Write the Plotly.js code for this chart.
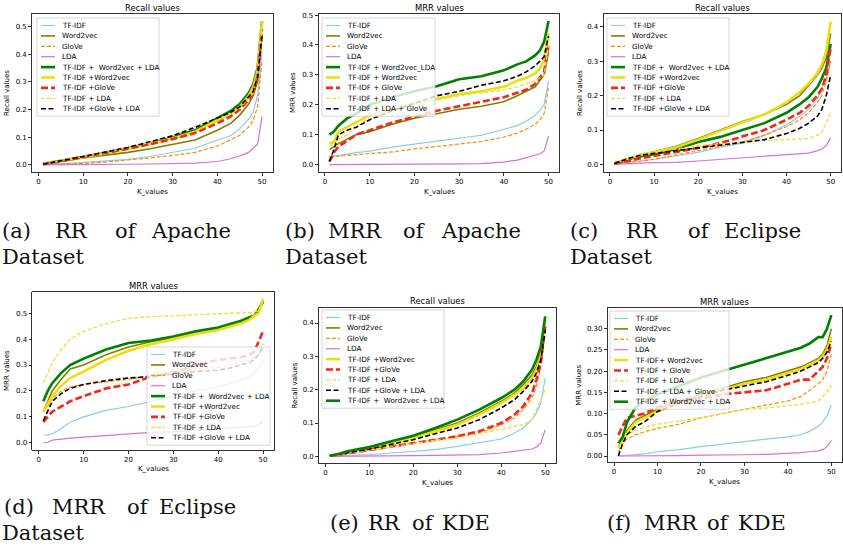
<!DOCTYPE html>
<html><head><meta charset="utf-8">
<script src="https://cdn.plot.ly/plotly-3.0.1.min.js"></script>
<style>html,body{margin:0;padding:0;background:#fff}#chart{width:843px;height:548px}</style>
</head><body><div id="chart"></div>
<script>
// ---------------- data ----------------
const K = [1,2,3,5,7,10,15,20,25,30,35,40,43,45,47,48,49,50];
const xTicks = [0,10,20,30,40,50];

// (a) Recall, Apache
const a_tfidf = [0.002,0.002,0.003,0.004,0.005,0.008,0.013,0.02,0.03,0.045,0.06,0.09,0.105,0.13,0.165,0.19,0.25,0.41];
const a_w2v   = [0.004,0.006,0.008,0.012,0.017,0.025,0.035,0.045,0.058,0.073,0.09,0.125,0.15,0.18,0.22,0.25,0.3,0.47];
const a_glove = [0.001,0.001,0.002,0.003,0.004,0.005,0.01,0.017,0.025,0.034,0.045,0.068,0.09,0.107,0.137,0.16,0.21,0.38];
const a_lda   = [0,0,0,0,0,0.001,0.002,0.002,0.003,0.004,0.006,0.012,0.022,0.032,0.045,0.06,0.075,0.175];
const a_twl   = [0.004,0.007,0.01,0.015,0.02,0.028,0.043,0.06,0.078,0.1,0.125,0.17,0.195,0.22,0.26,0.29,0.35,0.52];
const a_tw    = [0.004,0.007,0.01,0.015,0.02,0.027,0.042,0.058,0.076,0.095,0.12,0.16,0.185,0.21,0.25,0.28,0.34,0.52];
const a_tg    = [0.002,0.005,0.008,0.013,0.018,0.027,0.042,0.058,0.075,0.093,0.115,0.15,0.175,0.2,0.235,0.26,0.32,0.49];
const a_tl    = [0.003,0.006,0.009,0.014,0.02,0.029,0.045,0.062,0.082,0.105,0.14,0.165,0.185,0.205,0.24,0.26,0.33,0.5];
const a_tgl   = [0.002,0.005,0.009,0.014,0.02,0.03,0.046,0.063,0.083,0.105,0.135,0.17,0.19,0.21,0.245,0.265,0.32,0.47];

// (b) MRR, Apache
const b_tfidf = [0.025,0.027,0.029,0.035,0.04,0.045,0.058,0.067,0.078,0.088,0.098,0.118,0.13,0.145,0.165,0.18,0.2,0.28];
const b_w2v   = [0.05,0.06,0.07,0.085,0.1,0.11,0.135,0.155,0.17,0.185,0.195,0.21,0.23,0.245,0.26,0.28,0.3,0.375];
const b_glove = [0.025,0.026,0.027,0.03,0.033,0.037,0.042,0.052,0.06,0.068,0.077,0.092,0.105,0.118,0.135,0.148,0.17,0.26];
const b_lda   = [0,0,0,0,0,0,0,0.001,0.001,0.002,0.003,0.008,0.015,0.022,0.03,0.035,0.045,0.095];
const b_twl   = [0.1,0.11,0.13,0.155,0.17,0.2,0.225,0.245,0.262,0.285,0.295,0.315,0.335,0.345,0.365,0.38,0.41,0.48];
const b_tw    = [0.07,0.075,0.11,0.125,0.14,0.165,0.185,0.205,0.22,0.235,0.245,0.26,0.28,0.29,0.305,0.32,0.35,0.44];
const b_tg    = [0.01,0.04,0.06,0.08,0.1,0.115,0.14,0.16,0.18,0.195,0.21,0.225,0.24,0.25,0.27,0.29,0.31,0.4];
const b_tl    = [0.06,0.07,0.085,0.1,0.125,0.16,0.18,0.2,0.215,0.23,0.24,0.25,0.26,0.27,0.28,0.29,0.3,0.4];
const b_tgl   = [0.01,0.05,0.1,0.115,0.125,0.15,0.18,0.205,0.23,0.245,0.265,0.28,0.295,0.31,0.33,0.345,0.36,0.43];

// (c) Recall, Eclipse
const c_tfidf = [0.002,0.003,0.004,0.007,0.01,0.015,0.025,0.035,0.05,0.062,0.085,0.115,0.14,0.16,0.19,0.22,0.25,0.3];
const c_w2v   = [0.003,0.006,0.01,0.02,0.028,0.037,0.053,0.075,0.1,0.125,0.145,0.175,0.2,0.23,0.26,0.28,0.31,0.38];
const c_glove = [0.002,0.003,0.004,0.007,0.01,0.015,0.027,0.04,0.052,0.065,0.085,0.11,0.13,0.15,0.18,0.2,0.24,0.3];
const c_lda   = [0,0.001,0.002,0.003,0.004,0.005,0.006,0.01,0.015,0.02,0.023,0.028,0.031,0.033,0.04,0.045,0.055,0.077];
const c_twl   = [0.003,0.006,0.01,0.018,0.024,0.03,0.045,0.065,0.08,0.1,0.12,0.15,0.175,0.195,0.225,0.25,0.28,0.35];
const c_tw    = [0.003,0.008,0.012,0.02,0.028,0.035,0.05,0.072,0.098,0.122,0.145,0.18,0.21,0.235,0.265,0.29,0.33,0.415];
const c_tg    = [0.003,0.005,0.007,0.012,0.018,0.025,0.035,0.048,0.062,0.08,0.1,0.13,0.15,0.17,0.2,0.22,0.26,0.34];
const c_tl    = [0.003,0.008,0.012,0.02,0.027,0.035,0.045,0.055,0.06,0.065,0.07,0.072,0.074,0.076,0.085,0.095,0.12,0.15];
const c_tgl   = [0.003,0.008,0.012,0.02,0.027,0.032,0.04,0.05,0.057,0.064,0.072,0.09,0.105,0.12,0.14,0.16,0.2,0.26];

// (d) MRR, Eclipse
const d_tfidf = [0.03,0.03,0.035,0.055,0.08,0.1,0.125,0.14,0.16,0.18,0.2,0.215,0.23,0.24,0.255,0.27,0.29,0.32];
const d_w2v   = [0.12,0.16,0.2,0.245,0.285,0.3,0.34,0.37,0.39,0.405,0.425,0.44,0.455,0.465,0.48,0.49,0.52,0.55];
const d_glove = [0.12,0.14,0.17,0.2,0.215,0.225,0.235,0.245,0.26,0.275,0.285,0.29,0.3,0.31,0.32,0.33,0.345,0.38];
const d_lda   = [0,0.002,0.01,0.015,0.018,0.022,0.028,0.035,0.04,0.042,0.048,0.052,0.055,0.058,0.06,0.063,0.07,0.08];
const d_twl   = [0.16,0.2,0.23,0.27,0.3,0.325,0.36,0.385,0.395,0.41,0.43,0.445,0.46,0.47,0.485,0.49,0.51,0.545];
const d_tw    = [0.12,0.15,0.18,0.22,0.25,0.275,0.32,0.355,0.38,0.4,0.42,0.435,0.45,0.46,0.475,0.49,0.5,0.555];
const d_tg    = [0.08,0.1,0.12,0.14,0.16,0.18,0.21,0.225,0.255,0.27,0.3,0.32,0.325,0.33,0.34,0.35,0.39,0.43];
const d_tl    = [0.23,0.27,0.31,0.36,0.4,0.43,0.46,0.48,0.487,0.49,0.495,0.498,0.5,0.5,0.502,0.505,0.51,0.53];
const d_tgl   = [0.085,0.12,0.16,0.19,0.21,0.225,0.24,0.25,0.255,0.265,0.275,0.28,0.29,0.3,0.31,0.32,0.34,0.37];

// (e) Recall, KDE
const e_tfidf = [0.001,0.001,0.002,0.003,0.004,0.005,0.01,0.015,0.02,0.03,0.04,0.052,0.07,0.085,0.11,0.13,0.16,0.235];
const e_w2v   = [0.002,0.004,0.006,0.012,0.018,0.026,0.042,0.06,0.08,0.1,0.13,0.165,0.19,0.215,0.245,0.27,0.31,0.41];
const e_glove = [0.002,0.003,0.005,0.009,0.013,0.019,0.03,0.04,0.05,0.06,0.07,0.095,0.115,0.14,0.175,0.21,0.27,0.37];
const e_lda   = [0,0,0,0,0,0,0.001,0.002,0.003,0.004,0.005,0.01,0.015,0.018,0.022,0.028,0.04,0.08];
const e_tw    = [0.002,0.004,0.006,0.012,0.018,0.025,0.04,0.055,0.075,0.095,0.125,0.16,0.185,0.205,0.235,0.26,0.3,0.42];
const e_tg    = [0.002,0.003,0.005,0.009,0.013,0.02,0.03,0.04,0.05,0.06,0.075,0.1,0.125,0.15,0.19,0.23,0.28,0.39];
const e_tl    = [0.002,0.003,0.005,0.009,0.013,0.02,0.03,0.04,0.048,0.055,0.068,0.08,0.09,0.095,0.11,0.14,0.17,0.2];
const e_tgl   = [0.002,0.004,0.006,0.011,0.016,0.022,0.036,0.05,0.068,0.085,0.11,0.145,0.17,0.195,0.225,0.25,0.29,0.38];
const e_twl   = [0.002,0.004,0.007,0.015,0.02,0.028,0.045,0.062,0.085,0.11,0.14,0.175,0.2,0.225,0.26,0.29,0.33,0.42];

// (f) MRR, KDE
const f_tfidf = [0,0.001,0.002,0.004,0.005,0.01,0.015,0.022,0.028,0.035,0.04,0.045,0.05,0.058,0.07,0.08,0.095,0.12];
const f_w2v   = [0.02,0.04,0.06,0.085,0.095,0.11,0.13,0.145,0.16,0.175,0.185,0.2,0.21,0.22,0.23,0.24,0.26,0.3];
const f_glove = [0.01,0.03,0.04,0.05,0.057,0.065,0.075,0.09,0.1,0.11,0.12,0.13,0.14,0.155,0.17,0.18,0.2,0.24];
const f_lda   = [0,0,0,0,0,0,0.001,0.002,0.002,0.003,0.004,0.006,0.008,0.01,0.012,0.015,0.022,0.037];
const f_tw    = [0.02,0.04,0.055,0.08,0.09,0.105,0.125,0.14,0.155,0.17,0.18,0.195,0.205,0.215,0.225,0.235,0.25,0.28];
const f_tg    = [0.05,0.07,0.09,0.095,0.1,0.115,0.13,0.135,0.145,0.15,0.155,0.17,0.18,0.18,0.2,0.21,0.23,0.265];
const f_tl    = [0.02,0.035,0.05,0.06,0.068,0.075,0.082,0.09,0.1,0.11,0.113,0.118,0.122,0.125,0.13,0.14,0.15,0.168];
const f_tgl   = [0,0.03,0.05,0.07,0.08,0.105,0.125,0.14,0.155,0.165,0.175,0.19,0.2,0.21,0.22,0.23,0.245,0.27];
const f_twl   = [0.03,0.045,0.08,0.115,0.13,0.145,0.165,0.185,0.2,0.215,0.23,0.245,0.255,0.265,0.28,0.28,0.3,0.332];

const NB = '\u00A0';
const labelsStd = ['TF-IDF','Word2vec','GloVe','LDA','TF-IDF +'+NB+' Word2vec + LDA','TF-IDF +Word2vec','TF-IDF +GloVe','TF-IDF + LDA','TF-IDF +GloVe + LDA'];
const labelsB   = ['TF-IDF','Word2vec','GloVe','LDA','TF-IDF + Word2vec_LDA','TF-IDF + Word2vec','TF-IDF + GloVe','TF-IDF + LDA','TF-IDF + LDA + GloVe'];
const labelsE   = ['TF-IDF','Word2vec','GloVe','LDA','TF-IDF +Word2vec','TF-IDF +GloVe','TF-IDF + LDA','TF-IDF +GloVe + LDA','TF-IDF +'+NB+' Word2vec + LDA'];
const labelsF   = ['TF-IDF','Word2vec','GloVe','LDA','TF-IDF+ Word2vec','TF-IDF + GloVe','TF-IDF + LDA','TF-IDF + LDA + Glove','TF-IDF + Word2vec + LDA'];

// ---------------- styles ----------------
const ST = {
  tfidf:{color:'#87CEEB', width:1.2, dash:'solid'},
  w2v:  {color:'#808000', width:1.6, dash:'solid'},
  glove:{color:'#FF8C00', width:1.2, dash:'4px,2px'},
  lda:  {color:'#DA70D6', width:1.2, dash:'solid'},
  twl:  {color:'#008000', width:2.6, dash:'solid'},
  tw:   {color:'#EEDD11', width:2.6, dash:'solid'},
  tg:   {color:'#F2281A', width:2.6, dash:'7px,3px'},
  tl:   {color:'#F2DC3A', width:1.3, dash:'4px,2px'},
  tgl:  {color:'#000000', width:1.6, dash:'5px,2.5px'}
};
const stdKeys = ['tfidf','w2v','glove','lda','twl','tw','tg','tl','tgl'];
const eKeys   = ['tfidf','w2v','glove','lda','tw','tg','tl','tgl','twl'];

const panels = [
  {keys:stdKeys, labels:labelsStd, data:[a_tfidf,a_w2v,a_glove,a_lda,a_twl,a_tw,a_tg,a_tl,a_tgl],
   box:[32,14,273,172], yr:[-0.026,0.546], yt:[0,0.1,0.2,0.3,0.4,0.5], yf:'.1f',
   title:'Recall values', ylab:'Recall values', titleY:7.5, xlabY:191.5, ylabX:7, leg:[37,18,122]},
  {keys:stdKeys, labels:labelsB, data:[b_tfidf,b_w2v,b_glove,b_lda,b_twl,b_tw,b_tg,b_tl,b_tgl],
   box:[318.5,14,559.5,172], yr:[-0.025,0.5035], yt:[0,0.1,0.2,0.3,0.4,0.5], yf:'.1f',
   title:'MRR values', ylab:'MRR values', titleY:7.5, xlabY:191.5, ylabX:293, leg:[322,18,113]},
  {keys:stdKeys, labels:labelsStd, data:[c_tfidf,c_w2v,c_glove,c_lda,c_twl,c_tw,c_tg,c_tl,c_tgl],
   box:[603.5,14,841.5,172], yr:[-0.022,0.437], yt:[0,0.1,0.2,0.3,0.4], yf:'.1f',
   title:'Recall values', ylab:'Recall values', titleY:7.5, xlabY:191.5, ylabX:580, leg:[607,18,122]},
  {keys:stdKeys, labels:labelsStd, data:[d_tfidf,d_w2v,d_glove,d_lda,d_twl,d_tw,d_tg,d_tl,d_tgl],
   box:[32.3,292,274,450], yr:[-0.028,0.582], yt:[0,0.1,0.2,0.3,0.4,0.5], yf:'.1f',
   title:'MRR values', ylab:'MRR values', titleY:286, xlabY:469, ylabX:7, leg:[147,347,123]},
  {keys:eKeys, labels:labelsE, data:[e_tfidf,e_w2v,e_glove,e_lda,e_tw,e_tg,e_tl,e_tgl,e_twl],
   box:[319,308,556,463], yr:[-0.02,0.445], yt:[0,0.1,0.2,0.3,0.4], yf:'.1f',
   title:'Recall values', ylab:'Recall values', titleY:300.7, xlabY:482.7, ylabX:294, leg:[322,310,122]},
  {keys:eKeys, labels:labelsF, data:[f_tfidf,f_w2v,f_glove,f_lda,f_tw,f_tg,f_tl,f_tgl,f_twl],
   box:[607.7,308.3,842,461.7], yr:[-0.0134,0.348], yt:[0,0.05,0.1,0.15,0.2,0.25,0.3], yf:'.2f',
   title:'MRR values', ylab:'MRR values', titleY:301.7, xlabY:481.7, ylabX:578.7, leg:[610,311,119]}
];

const W = 843, H = 548;
const px = p => p / W;
const py = p => 1 - p / H;
const FONT = 'DejaVu Sans';

const traces = [];
const layout = {
  width: W, height: H, margin:{l:0,r:0,t:0,b:0},
  paper_bgcolor:'#ffffff', plot_bgcolor:'#ffffff',
  showlegend:false, font:{family:FONT, size:7, color:'#000'},
  shapes:[], annotations:[]
};

panels.forEach((p, i) => {
  const n = i + 1;
  const xa = 'x' + (n === 1 ? '' : n), ya = 'y' + (n === 1 ? '' : n);
  const xk = 'xaxis' + (n === 1 ? '' : n), yk = 'yaxis' + (n === 1 ? '' : n);
  const [L, T, R, B] = p.box;
  const common = {showline:true, mirror:true, linecolor:'#000', linewidth:0.8, showgrid:false, zeroline:false,
                  ticks:'outside', ticklen:3, tickwidth:0.8, tickcolor:'#000',
                  tickfont:{family:FONT, size:7, color:'#000'}};
  layout[xk] = Object.assign({}, common, {domain:[px(L), px(R)], range:[-1.45,52.45], tickmode:'array', tickvals:xTicks, anchor:ya});
  layout[yk] = Object.assign({}, common, {domain:[py(B), py(T)], range:p.yr, tickmode:'array', tickvals:p.yt, tickformat:p.yf, anchor:xa});

  p.keys.forEach((k, j) => {
    const s = ST[k];
    traces.push({type:'scatter', mode:'lines', x:K, y:p.data[j], xaxis:xa, yaxis:ya, name:p.labels[j],
                 line:{color:s.color, width:s.width, dash:s.dash}, hoverinfo:'skip'});
  });

  const cx = (L + R) / 2, cy = (T + B) / 2;
  layout.annotations.push({text:p.title, xref:'paper', yref:'paper', x:px(cx), y:py(p.titleY), xanchor:'center', yanchor:'middle', showarrow:false, font:{family:FONT, size:8.4, color:'#000'}});
  layout.annotations.push({text:'K_values', xref:'paper', yref:'paper', x:px(cx), y:py(p.xlabY), xanchor:'center', yanchor:'middle', showarrow:false, font:{family:FONT, size:7, color:'#000'}});
  layout.annotations.push({text:p.ylab, xref:'paper', yref:'paper', x:px(p.ylabX), y:py(cy), xanchor:'center', yanchor:'middle', textangle:-90, showarrow:false, font:{family:FONT, size:7, color:'#000'}});

  // legend box (matplotlib-style)
  const [lx, ly, lw] = p.leg;
  const sp = 10.4, nItems = p.keys.length;
  const lh = 15 + (nItems - 1) * sp;
  layout.shapes.push({type:'rect', xref:'paper', yref:'paper', x0:px(lx), x1:px(lx + lw), y0:py(ly + lh), y1:py(ly), layer:'above',
                      fillcolor:'rgba(255,255,255,0.8)', line:{color:'#cccccc', width:0.8}});
  p.keys.forEach((k, j) => {
    const s = ST[k], yy = ly + 7.5 + j * sp;
    layout.shapes.push({type:'line', xref:'paper', yref:'paper', x0:px(lx + 4), x1:px(lx + 18), y0:py(yy), y1:py(yy), layer:'above',
                        line:{color:s.color, width:s.width, dash:s.dash}});
    layout.annotations.push({text:p.labels[j], xref:'paper', yref:'paper', x:px(lx + 23), y:py(yy), xanchor:'left', yanchor:'middle', showarrow:false,
                             font:{family:FONT, size:7.2, color:'#000'}});
  });
});

// captions (LaTeX-style, justified word by word)
const CAPF = {family:'DejaVu Serif', size:21, color:'#111'};
const captions = [
  ['(a)',0,231,'left'],['RR',53,231,'left'],['of',113,231,'left'],['Apache',233,231,'right'],['Dataset',0,257,'left'],
  ['(b)',283,231,'left'],['MRR',326,231,'left'],['of',401,231,'left'],['Apache',523,231,'right'],['Dataset',283,257,'left'],
  ['(c)',568,231,'left'],['RR',624,231,'left'],['of',686,231,'left'],['Eclipse',803,231,'right'],['Dataset',568,257,'left'],
  ['(d)',2,507,'left'],['MRR',50,507,'left'],['of',125,507,'left'],['Eclipse',238,507,'right'],['Dataset',0,533,'left'],
  ['(e)',328,523,'left'],['RR',366,523,'left'],['of',410,523,'left'],['KDE',492,523,'right'],
  ['(f)',605,523,'left'],['MRR',642,523,'left'],['of',705,523,'left'],['KDE',788,523,'right']
];
captions.forEach(c => layout.annotations.push({text:c[0], xref:'paper', yref:'paper', x:px(c[1]), y:py(c[2]), xanchor:c[3], yanchor:'middle', showarrow:false, font:CAPF}));

Plotly.newPlot('chart', traces, layout, {staticPlot:true, displayModeBar:false});
</script>
</body></html>
